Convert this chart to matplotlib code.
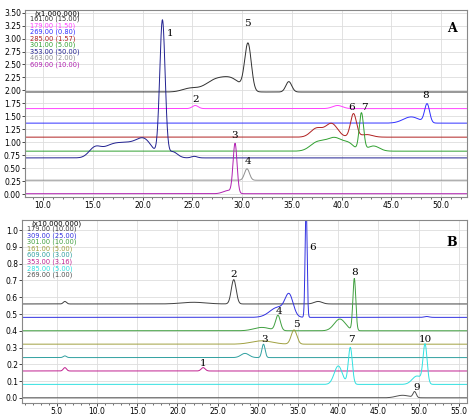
import numpy as np
import matplotlib
matplotlib.use("Agg")
import matplotlib.pyplot as plt

# ---- Panel A data (x1,000,000) ----
A_names = ["161.00 (15.00)", "179.00 (1.50)", "269.00 (0.80)", "285.00 (1.57)",
           "301.00 (5.00)", "353.00 (50.00)", "463.00 (2.00)", "609.00 (10.00)"]
A_colors = ["#303030", "#ff40ff", "#3030ff", "#b02020", "#30a030", "#202090", "#909090", "#b020b0"]
A_base = [1.97, 1.65, 1.37, 1.10, 0.83, 0.70, 0.27, 0.01]
# peaks: (centre min, height above baseline, width sigma)
A_peaks = [
    [(24.8, 0.07, 0.8), (27.3, 0.22, 1.0), (29.0, 0.22, 0.9), (30.6, 0.9, 0.33), (34.7, 0.2, 0.3)],
    [(25.3, 0.06, 0.3), (39.6, 0.06, 0.5)],
    [(47.0, 0.12, 0.8), (48.6, 0.36, 0.25)],
    [(37.5, 0.17, 0.6), (39.0, 0.26, 0.6), (41.2, 0.45, 0.3), (42.5, 0.05, 0.6)],
    [(37.5, 0.15, 0.7), (39.3, 0.26, 0.9), (40.8, 0.1, 0.5), (42.0, 0.72, 0.22), (43.2, 0.1, 0.6)],
    [(15.2, 0.18, 0.6), (16.8, 0.2, 0.9), (18.5, 0.24, 1.0), (20.2, 0.32, 0.8),
     (22.0, 2.62, 0.27), (23.0, 0.12, 0.5), (25.2, 0.03, 0.3)],
    [(30.5, 0.22, 0.25)],
    [(29.3, 0.95, 0.2), (28.6, 0.06, 0.5)],
]
A_labels = [("1", 22.8, 3.05), ("2", 25.3, 1.78), ("3", 29.3, 1.08), ("4", 30.6, 0.58),
            ("5", 30.5, 3.25), ("6", 41.0, 1.62), ("7", 42.3, 1.62), ("8", 48.4, 1.85)]

# ---- Panel B data (x10,000,000) ----
B_names = ["179.00 (10.00)", "309.00 (25.00)", "301.00 (10.00)", "161.00 (5.00)",
           "609.00 (3.00)", "353.00 (3.16)", "285.00 (5.00)", "269.00 (1.00)"]
B_colors = ["#404040", "#3030e0", "#40a040", "#a0a040", "#30a0a0", "#c02090", "#30e0e0", "#505050"]
B_base = [0.56, 0.48, 0.40, 0.32, 0.24, 0.16, 0.08, 0.00]
B_peaks = [
    [(6.0, 0.015, 0.2), (22.0, 0.01, 1.5), (27.0, 0.145, 0.3), (37.5, 0.015, 0.5)],
    [(32.5, 0.06, 1.0), (33.9, 0.12, 0.5), (36.0, 0.7, 0.12), (51.0, 0.005, 0.3)],
    [(30.5, 0.02, 1.0), (32.5, 0.09, 0.3), (40.2, 0.07, 0.7), (42.0, 0.31, 0.18)],
    [(30.5, 0.02, 1.3), (34.5, 0.085, 0.35)],
    [(6.0, 0.01, 0.2), (28.4, 0.025, 0.5), (30.7, 0.08, 0.2)],
    [(6.0, 0.02, 0.2), (23.2, 0.02, 0.25)],
    [(40.0, 0.11, 0.5), (41.5, 0.22, 0.25), (49.8, 0.05, 0.6), (50.8, 0.23, 0.25)],
    [(48.0, 0.015, 0.8), (49.5, 0.035, 0.2)],
]
B_labels = [("1", 23.2, 0.19), ("2", 27.0, 0.72), ("3", 30.8, 0.33), ("4", 32.6, 0.50),
            ("5", 34.8, 0.42), ("6", 36.8, 0.88), ("7", 41.6, 0.33), ("8", 42.0, 0.73),
            ("9", 49.7, 0.045), ("10", 50.8, 0.33)]


def trace(x, base, peaks):
    y = np.full_like(x, base)
    for c, h, s in peaks:
        y = y + h * np.exp(-0.5 * ((x - c) / s) ** 2)
    return y


fig = plt.figure(figsize=(4.74, 4.17), dpi=100)
axA = fig.add_axes([0.053, 0.528, 0.932, 0.448])
axB = fig.add_axes([0.047, 0.034, 0.938, 0.438])


def style(ax, xlim, ylim, xt, yt, yfmt, scale, panel):
    ax.set_xlim(*xlim)
    ax.set_ylim(*ylim)
    ax.set_xticks(xt)
    ax.set_xticklabels([f"{v:.1f}" for v in xt], fontsize=5.5)
    ax.set_yticks(yt)
    ax.set_yticklabels([yfmt.format(v) for v in yt], fontsize=5.5)
    ax.set_xticks(np.arange(np.ceil(xlim[0]), xlim[1], 1.0), minor=True)
    ax.grid(True, which="major", color="#dddddd", lw=0.6)
    ax.tick_params(length=2, pad=1, width=0.5)
    ax.tick_params(which="minor", length=1.2, width=0.4)
    for s in ax.spines.values():
        s.set_color("#888888")
        s.set_linewidth(0.8)
    ax.text(0.02, 1.0, scale, transform=ax.transAxes, fontsize=5, va="top")
    ax.text(0.955, 0.88 if panel == "A" else 0.86, panel, transform=ax.transAxes,
            fontsize=9, fontweight="bold", family="DejaVu Serif")


# Panel A
xA = np.linspace(8.2, 52.6, 3000)
for base, pk, col in zip(A_base, A_peaks, A_colors):
    axA.plot(xA, trace(xA, base, pk), color=col, lw=0.7)
style(axA, (8.2, 52.6), (-0.05, 3.55), [10, 15, 20, 25, 30, 35, 40, 45, 50],
      np.arange(0, 3.51, 0.25), "{:.2f}", "(x1,000,000)", "A")
for i, (n, c) in enumerate(zip(A_names, A_colors)):
    axA.text(0.01, 0.97 - i * 0.035, n, color=c, fontsize=4.8, transform=axA.transAxes, va="top")
for t, x, y in A_labels:
    axA.text(x, y, t, fontsize=7.5, family="DejaVu Serif", ha="center")

# Panel B
xB = np.linspace(0.7, 56.0, 3000)
for base, pk, col in zip(B_base, B_peaks, B_colors):
    axB.plot(xB, trace(xB, base, pk), color=col, lw=0.7)
style(axB, (0.7, 56.0), (-0.03, 1.06), [5, 10, 15, 20, 25, 30, 35, 40, 45, 50, 55],
      np.arange(0, 1.01, 0.1), "{:.1f}", "(x10,000,000)", "B")
for i, (n, c) in enumerate(zip(B_names, B_colors)):
    axB.text(0.01, 0.97 - i * 0.036, n, color=c, fontsize=4.8, transform=axB.transAxes, va="top")
for t, x, y in B_labels:
    axB.text(x, y, t, fontsize=7.5, family="DejaVu Serif", ha="center")

fig.savefig("out.png", dpi=100)
